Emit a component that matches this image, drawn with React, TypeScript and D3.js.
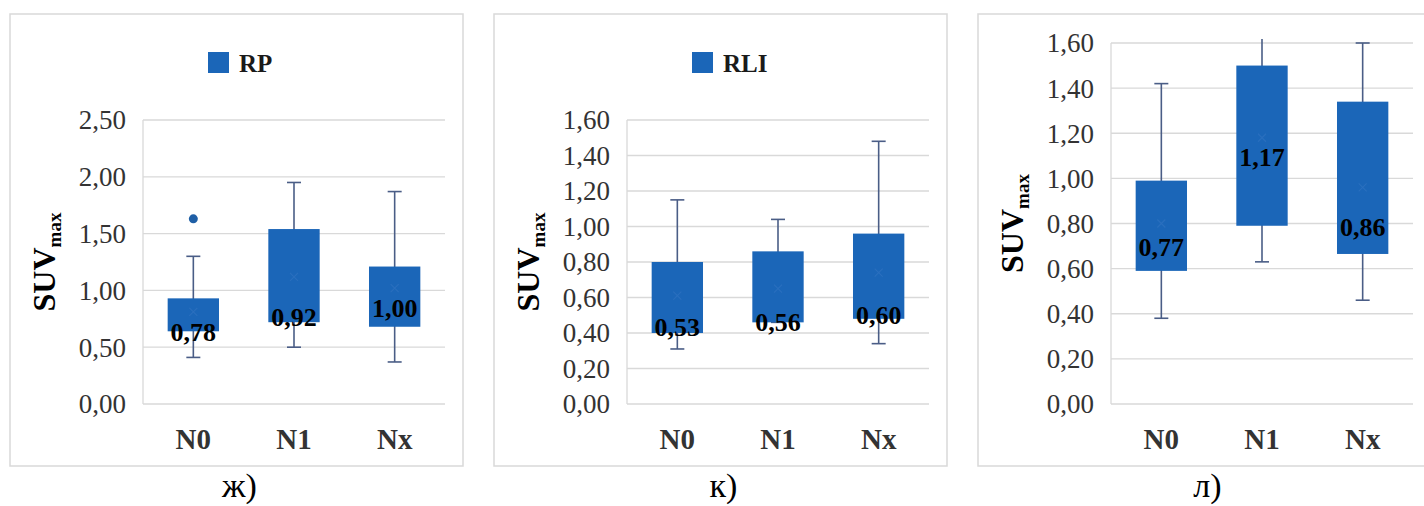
import React, { useEffect, useRef } from 'react';
import * as d3 from 'd3';

// categories and tick labels
const categories = ['N0', 'N1', 'Nx'];
const ticksRP = [0, 0.5, 1, 1.5, 2, 2.5];
const ticksSmall = [0, 0.2, 0.4, 0.6, 0.8, 1.0, 1.2, 1.4, 1.6];

// ж) RP
const rpMin = [0.41, 0.50, 0.37];
const rpQ1 = [0.64, 0.72, 0.68];
const rpMedian = [0.78, 0.92, 1.00];
const rpQ3 = [0.93, 1.54, 1.21];
const rpMax = [1.30, 1.95, 1.87];
const rpMean = [0.81, 1.12, 1.02];
const rpOutliers = [[1.63], [], []];

// к) RLI
const rliMin = [0.31, 0.46, 0.34];
const rliQ1 = [0.40, 0.46, 0.48];
const rliMedian = [0.53, 0.56, 0.60];
const rliQ3 = [0.80, 0.86, 0.96];
const rliMax = [1.15, 1.04, 1.48];
const rliMean = [0.61, 0.65, 0.74];

// л) no legend
const lMin = [0.38, 0.63, 0.46];
const lQ1 = [0.59, 0.79, 0.665];
const lMedian = [0.77, 1.17, 0.86];
const lQ3 = [0.99, 1.50, 1.34];
const lMax = [1.42, 1.65, 1.60];
const lMean = [0.80, 1.18, 0.96];

const panels = [
  { legend: 'RP', caption: 'ж)', ticks: ticksRP, min: rpMin, q1: rpQ1, median: rpMedian, q3: rpQ3, max: rpMax, mean: rpMean, outliers: rpOutliers },
  { legend: 'RLI', caption: 'к)', ticks: ticksSmall, min: rliMin, q1: rliQ1, median: rliMedian, q3: rliQ3, max: rliMax, mean: rliMean, outliers: [[], [], []] },
  { legend: null, caption: 'л)', ticks: ticksSmall, min: lMin, q1: lQ1, median: lMedian, q3: lQ3, max: lMax, mean: lMean, outliers: [[], [], []] },
];

const SERIF = '"Liberation Serif", "Times New Roman", serif';
const BOX = '#1b66b8';
const WHISKER = '#4a5d86';
const GRID = '#d9d9d9';

const fmt = d3.formatLocale({ decimal: ',', thousands: ' ', grouping: [3], currency: ['', ''] }).format('.2f');

const App = () => {
  const svgRef = useRef<SVGSVGElement>(null);

  useEffect(() => {
    const svg = d3.select(svgRef.current);
    svg.selectAll('*').remove();

    panels.forEach((p, i) => {
      const x0 = 10 + i * 484;
      const frameTop = 14, frameBottom = 466, frameW = 453;
      const left = x0 + 133, right = x0 + 435;
      const top = p.legend ? 120 : 43, bottom = 404;

      const g = svg.append('g');

      // frame
      g.append('rect')
        .attr('x', x0).attr('y', frameTop)
        .attr('width', frameW).attr('height', frameBottom - frameTop)
        .attr('fill', '#fff').attr('stroke', GRID).attr('stroke-width', 1.5);

      const yMax = p.ticks[p.ticks.length - 1];
      const y = d3.scaleLinear().domain([0, yMax]).range([bottom, top]);
      const x = d3.scaleBand().domain(categories).range([left, right]).padding(0);
      const boxW = x.bandwidth() * 0.51;

      // gridlines
      g.append('g').selectAll('line').data(p.ticks).join('line')
        .attr('x1', left).attr('x2', right)
        .attr('y1', d => y(d)).attr('y2', d => y(d))
        .attr('stroke', GRID).attr('stroke-width', 1.3);
      g.append('line')
        .attr('x1', left).attr('x2', left)
        .attr('y1', top).attr('y2', bottom)
        .attr('stroke', GRID).attr('stroke-width', 1.3);

      // y tick labels
      g.append('g').selectAll('text').data(p.ticks).join('text')
        .attr('x', left - 17).attr('y', d => y(d))
        .attr('dy', '0.35em')
        .attr('text-anchor', 'end')
        .style('font-family', SERIF).style('font-size', '27px').style('fill', '#333')
        .text(d => fmt(d));

      // x labels
      g.append('g').selectAll('text').data(categories).join('text')
        .attr('x', d => x(d)! + x.bandwidth() / 2).attr('y', bottom + 45)
        .attr('text-anchor', 'middle')
        .style('font-family', SERIF).style('font-size', '29px').style('font-weight', 'bold').style('fill', '#333')
        .text(d => d);

      // y title
      const yt = g.append('text')
        .attr('transform', `translate(${x0 + 45},${(top + bottom) / 2}) rotate(-90)`)
        .attr('text-anchor', 'middle')
        .style('font-family', SERIF).style('font-weight', 'bold').style('fill', '#000');
      yt.append('tspan').style('font-size', '32px').text('SUV');
      yt.append('tspan').style('font-size', '19px').attr('dy', '0.3em').text('max');

      // legend
      if (p.legend) {
        g.append('rect').attr('x', x0 + 198).attr('y', 52).attr('width', 21).attr('height', 21).attr('fill', BOX);
        g.append('text').attr('x', x0 + 229).attr('y', 72)
          .style('font-family', SERIF).style('font-size', '25px').style('font-weight', 'bold').style('fill', '#1a1a1a')
          .text(p.legend);
      }

      // clip so whiskers past the top lose their caps
      const clipId = `clip-${i}`;
      g.append('clipPath').attr('id', clipId)
        .append('rect').attr('x', left).attr('y', top - 4).attr('width', right - left).attr('height', bottom - top + 8);

      const boxes = g.append('g').attr('clip-path', `url(#${clipId})`);

      categories.forEach((c, j) => {
        const cx = x(c)! + x.bandwidth() / 2;
        // whisker
        boxes.append('line')
          .attr('x1', cx).attr('x2', cx)
          .attr('y1', y(p.min[j])).attr('y2', y(p.max[j]))
          .attr('stroke', WHISKER).attr('stroke-width', 1.6);
        [p.min[j], p.max[j]].forEach(v => {
          boxes.append('line')
            .attr('x1', cx - 7).attr('x2', cx + 7)
            .attr('y1', y(v)).attr('y2', y(v))
            .attr('stroke', WHISKER).attr('stroke-width', 1.6);
        });
        // box
        boxes.append('rect')
          .attr('x', cx - boxW / 2).attr('width', boxW)
          .attr('y', y(p.q3[j])).attr('height', y(p.q1[j]) - y(p.q3[j]))
          .attr('fill', BOX);
        // mean marker (faint x)
        const my = y(p.mean[j]);
        boxes.append('path')
          .attr('d', `M${cx - 4},${my - 4}L${cx + 4},${my + 4}M${cx - 4},${my + 4}L${cx + 4},${my - 4}`)
          .attr('stroke', '#2a6fbe').attr('stroke-width', 1.1).attr('fill', 'none');
        // outliers
        p.outliers[j].forEach(v => {
          boxes.append('circle').attr('cx', cx).attr('cy', y(v)).attr('r', 4.5).attr('fill', '#1f5fa6');
        });
        // median label
        g.append('text')
          .attr('x', cx).attr('y', y(p.median[j]) + 17)
          .attr('dy', '0.35em')
          .attr('text-anchor', 'middle')
          .style('font-family', SERIF).style('font-size', '26px').style('font-weight', 'bold').style('fill', '#000')
          .text(fmt(p.median[j]));
      });

      // caption
      svg.append('text')
        .attr('x', x0 + frameW / 2 + 3).attr('y', 497)
        .attr('text-anchor', 'middle')
        .style('font-family', SERIF).style('font-size', '34px').style('fill', '#000')
        .text(p.caption);
    });
  }, []);

  return (
    <svg ref={svgRef} width={1424} height={506}
      style={{ position: 'absolute', left: 0, top: 0, background: '#fff', display: 'block' }} />
  );
};

export default App;
